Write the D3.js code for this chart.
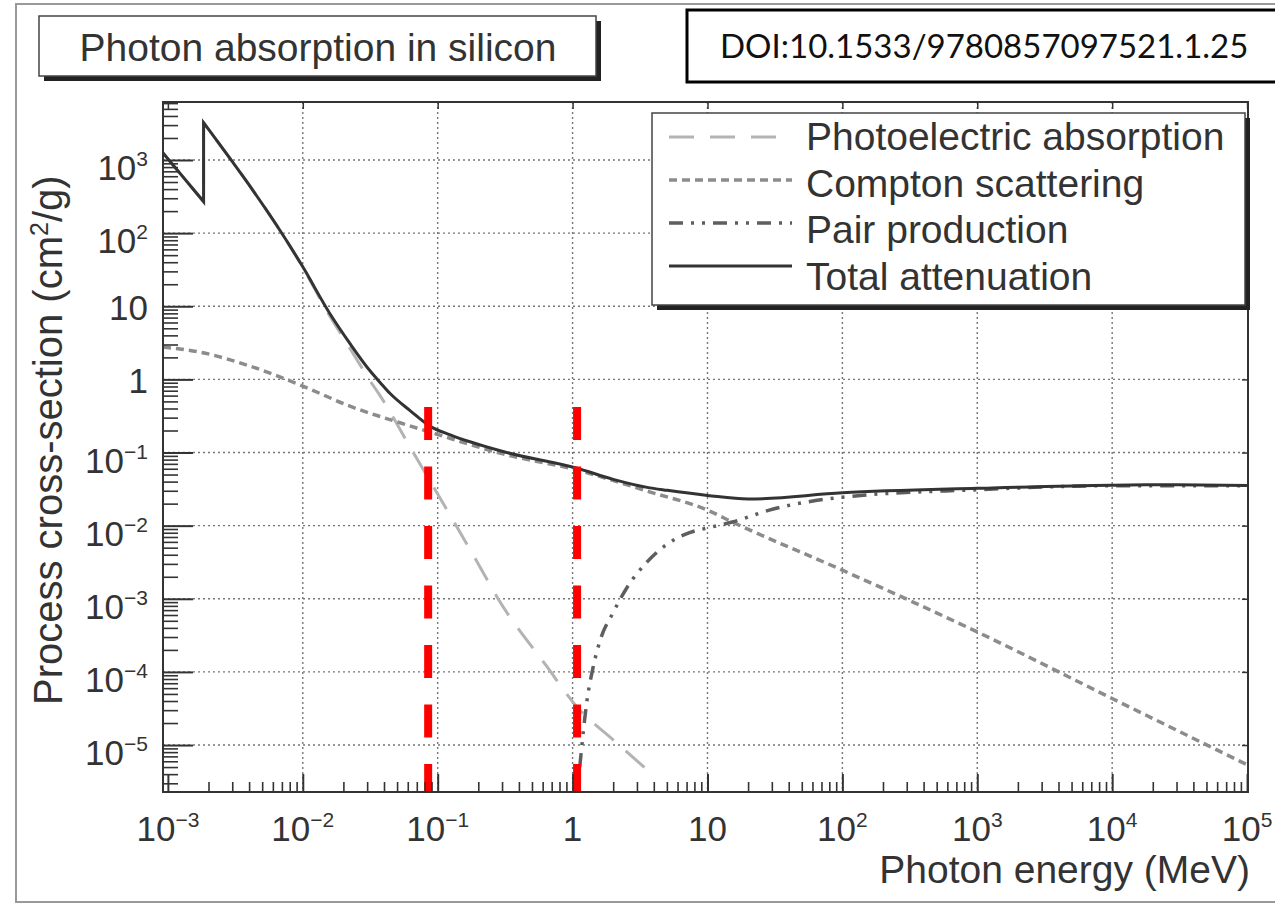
<!DOCTYPE html>
<meta charset="utf-8">
<html>
<head>
<script src="https://cdn.jsdelivr.net/npm/d3@7"></script>
<style>
body { margin: 0; background: #fff; }
text { font-family: "Liberation Sans", Arial, Helvetica, sans-serif; fill: #333; }
</style>
</head>
<body>
<svg id="chart" width="1275" height="906"></svg>
<script>
// photon energy (MeV) vs cross-section (cm2/g)
// the K edge of silicon splits photo + total in a low and a high part
var totalLow  = [[9.2e-4, 1250], [1.839e-3, 270]];
var totalHigh = [[1.839e-3, 3240], [0.01, 34.6], [0.0159, 7.9], [0.0224, 3.08], [0.0316, 1.3],
                 [0.0374, 0.91], [0.0444, 0.64], [0.0624, 0.374], [0.088, 0.228], [0.124, 0.174],
                 [0.3, 0.104], [1.08, 0.061], [2, 0.043], [3.57, 0.0334], [5.03, 0.0304],
                 [10, 0.0259], [20, 0.0231], [100, 0.0281], [1000, 0.0324], [1e4, 0.0358],
                 [3e4, 0.0362], [1.016e5, 0.0355]];
var photoLow  = [[9.2e-4, 1245], [1.839e-3, 267]];
var photoHigh = [[1.839e-3, 3200], [0.01, 33.8], [0.0159, 7.3], [0.0224, 2.65], [0.0316, 0.95],
                 [0.0374, 0.6], [0.0624, 0.119], [0.1, 0.027], [0.2, 0.003], [0.276, 1.05e-3],
                 [0.65, 1.16e-4], [1.08, 3.3e-5], [2, 1.18e-5], [3.77, 4.2e-6]];
var compton   = [[9.2e-4, 2.77], [1.73e-3, 2.36], [4.06e-3, 1.52], [0.01, 0.81], [0.0224, 0.43],
                 [0.0526, 0.255], [0.088, 0.19], [0.29, 0.098], [1.08, 0.0575], [3.77, 0.0288],
                 [10, 0.0163], [15.3, 0.0112], [100, 0.00246], [1000, 3.52e-4], [1e4, 4.33e-5],
                 [1.016e5, 5.3e-6]];
var pair      = [[1.13, 5e-6], [1.28, 4.1e-5], [1.42, 1.16e-4], [1.6, 2.7e-4], [2.0, 6.5e-4],
                 [2.54, 1.44e-3], [3.57, 3.2e-3], [5.03, 5.6e-3], [7.45, 8.1e-3], [10, 0.0093],
                 [15.3, 0.0112], [28.7, 0.0163], [100, 0.0245], [1000, 0.031], [1e4, 0.0352],
                 [1.016e5, 0.035]];

// red marker lines (MeV) and the value where they stop
var markerX = [0.085, 1.08];
var markerTop = 0.42;

var xExp = [-3, -2, -1, 0, 1, 2, 3, 4, 5];
var yExp = [-5, -4, -3, -2, -1, 0, 1, 2, 3];
var legendLabels = ["Photoelectric absorption", "Compton scattering", "Pair production", "Total attenuation"];

var xDomain = [9.2e-4, 1.016e5];
var yDomain = [2.28e-6, 6210];

var plot = {left: 163, right: 1248, top: 102, bottom: 792};
var svg = d3.select("#chart");

var x = d3.scaleLog().domain(xDomain).range([plot.left, plot.right]);
var y = d3.scaleLog().domain(yDomain).range([plot.bottom, plot.top]);

// outer border of the figure
svg.append("rect").attr("x", 16).attr("y", 4).attr("width", 1300).attr("height", 898)
  .attr("fill", "none").attr("stroke", "#999").attr("stroke-width", 2);

// title box with shadow
svg.append("rect").attr("x", 44).attr("y", 21).attr("width", 557).attr("height", 60).attr("fill", "#222");
svg.append("rect").attr("x", 39).attr("y", 16).attr("width", 557).attr("height", 60)
  .attr("fill", "#fff").attr("stroke", "#444").attr("stroke-width", 1.5);
svg.append("text").attr("x", 318).attr("y", 61).attr("text-anchor", "middle")
  .style("font-size", "39px").text("Photon absorption in silicon");

// DOI box
svg.append("rect").attr("x", 687).attr("y", 10).attr("width", 620).attr("height", 72)
  .attr("fill", "#fff").attr("stroke", "#000").attr("stroke-width", 3);
svg.append("text").attr("x", 720).attr("y", 58)
  .style("font-family", "Lato, 'Open Sans', sans-serif").style("font-size", "33px").style("fill", "#111")
  .text("DOI:10.1533/9780857097521.1.25");

var majorX = xExp.map(function(e) { return Math.pow(10, e); });
var majorY = yExp.map(function(e) { return Math.pow(10, e); });
function minors(lo, hi, dom) {
  var out = [];
  for (var e = lo; e <= hi; e++)
    for (var m = 2; m <= 9; m++) {
      var v = m * Math.pow(10, e);
      if (v > dom[0] && v < dom[1]) out.push(v);
    }
  return out;
}
var minorX = minors(-4, 4, xDomain);
var minorY = minors(-6, 3, yDomain);

// grid
svg.append("g").selectAll("line").data(majorX.slice(1, -1)).enter().append("line")
  .attr("x1", function(d) { return x(d); }).attr("x2", function(d) { return x(d); })
  .attr("y1", plot.top).attr("y2", plot.bottom)
  .attr("stroke", "#777").attr("stroke-width", 1.4).attr("stroke-dasharray", "2,3");
svg.append("g").selectAll("line").data(majorY).enter().append("line")
  .attr("y1", function(d) { return y(d); }).attr("y2", function(d) { return y(d); })
  .attr("x1", plot.left).attr("x2", plot.right)
  .attr("stroke", "#777").attr("stroke-width", 1.4).attr("stroke-dasharray", "2,3");

svg.append("clipPath").attr("id", "clip").append("rect")
  .attr("x", plot.left).attr("y", plot.top)
  .attr("width", plot.right - plot.left).attr("height", plot.bottom - plot.top);

var lineLin = d3.line().x(function(d) { return x(d[0]); }).y(function(d) { return y(d[1]); });
var lineMono = d3.line().x(function(d) { return x(d[0]); }).y(function(d) { return y(d[1]); })
  .curve(d3.curveMonotoneX);

function edgePath(low, high) {
  return lineLin(low.concat([high[0]])) + lineMono(high).replace(/^M/, "L");
}

var styles = {
  photo:   {stroke: "#b3b3b3", width: 3,   dash: "25,16"},
  compton: {stroke: "#8c8c8c", width: 3.5, dash: "8,5"},
  pair:    {stroke: "#5e5e5e", width: 3.5, dash: "14,8,3,8,3,8"},
  total:   {stroke: "#333",    width: 3,   dash: null}
};

var curves = svg.append("g").attr("clip-path", "url(#clip)");
function addPath(d, st) {
  curves.append("path").attr("d", d).attr("fill", "none")
    .attr("stroke", st.stroke).attr("stroke-width", st.width)
    .attr("stroke-dasharray", st.dash);
}
addPath(edgePath(photoLow, photoHigh), styles.photo);
addPath(lineMono(compton), styles.compton);
addPath(lineMono(pair), styles.pair);
addPath(edgePath(totalLow, totalHigh), styles.total);

// red dashed markers
svg.append("g").selectAll("line").data(markerX).enter().append("line")
  .attr("x1", function(d) { return x(d); }).attr("x2", function(d) { return x(d); })
  .attr("y1", y(markerTop)).attr("y2", plot.bottom)
  .attr("stroke", "#ff0000").attr("stroke-width", 8).attr("stroke-dasharray", "33,26.5");

// frame
svg.append("rect").attr("x", plot.left).attr("y", plot.top)
  .attr("width", plot.right - plot.left).attr("height", plot.bottom - plot.top)
  .attr("fill", "none").attr("stroke", "#333").attr("stroke-width", 2);

// ticks, all pointing inward
function ticks(axis, tr, sw) {
  var g = svg.append("g").attr("transform", tr).call(axis);
  g.select(".domain").remove();
  g.selectAll("line").attr("stroke", "#333").attr("stroke-width", sw);
}
var bottomT = "translate(0," + plot.bottom + ")";
var leftT = "translate(" + plot.left + ",0)";
ticks(d3.axisBottom(x).tickValues(majorX).tickSize(-18).tickFormat(""), bottomT, 2);
ticks(d3.axisBottom(x).tickValues(minorX).tickSize(-10).tickFormat(""), bottomT, 1.6);
ticks(d3.axisLeft(y).tickValues(majorY).tickSize(-30).tickFormat(""), leftT, 2);
ticks(d3.axisLeft(y).tickValues(minorY).tickSize(-15).tickFormat(""), leftT, 1.6);
ticks(d3.axisTop(x).tickValues(majorX).tickSize(-7).tickFormat(""), "translate(0," + plot.top + ")", 1.5);
ticks(d3.axisRight(y).tickValues(majorY).tickSize(-6).tickFormat(""), "translate(" + plot.right + ",0)", 1.5);

// power-of-ten labels
function powLabel(sel, e) {
  if (e === 0) { sel.append("tspan").text("1"); return; }
  if (e === 1) { sel.append("tspan").text("10"); return; }
  sel.append("tspan").text("10");
  sel.append("tspan").attr("dy", -14).style("font-size", "21px")
    .text(e < 0 ? "\u2212" + (-e) : String(e));
}
xExp.forEach(function(e) {
  var t = svg.append("text").attr("x", x(Math.pow(10, e))).attr("y", 841)
    .attr("text-anchor", "middle").style("font-size", "35px");
  powLabel(t, e);
});
yExp.forEach(function(e) {
  var hasSup = (e !== 0 && e !== 1);
  var t = svg.append("text").attr("x", 148).attr("y", y(Math.pow(10, e)) + (hasSup ? 20 : 14))
    .attr("text-anchor", "end").style("font-size", "35px");
  powLabel(t, e);
});

// axis titles
svg.append("text").attr("x", 1250).attr("y", 883).attr("text-anchor", "end")
  .style("font-size", "39px").text("Photon energy (MeV)");
var yt = svg.append("text").attr("transform", "translate(62,705) rotate(-90)")
  .style("font-size", "40px");
yt.append("tspan").text("Process cross-section (cm");
yt.append("tspan").attr("dy", -14).style("font-size", "25px").text("2");
yt.append("tspan").attr("dy", 14).text("/g)");

// legend
var leg = svg.append("g");
leg.append("rect").attr("x", 657).attr("y", 118).attr("width", 593).attr("height", 192).attr("fill", "#222");
leg.append("rect").attr("x", 652).attr("y", 113).attr("width", 593).attr("height", 192)
  .attr("fill", "#fff").attr("stroke", "#444").attr("stroke-width", 1.5);
var legStyles = [styles.photo, styles.compton, styles.pair, styles.total];
legendLabels.forEach(function(lbl, i) {
  var st = legStyles[i];
  leg.append("line").attr("x1", 669).attr("x2", 792)
    .attr("y1", 137 + 43 * i).attr("y2", 137 + 43 * i)
    .attr("stroke", st.stroke).attr("stroke-width", st.width).attr("stroke-dasharray", st.dash);
  leg.append("text").attr("x", 806).attr("y", 150 + 46.7 * i)
    .style("font-size", "39px").text(lbl);
});
</script>
</body>
</html>
